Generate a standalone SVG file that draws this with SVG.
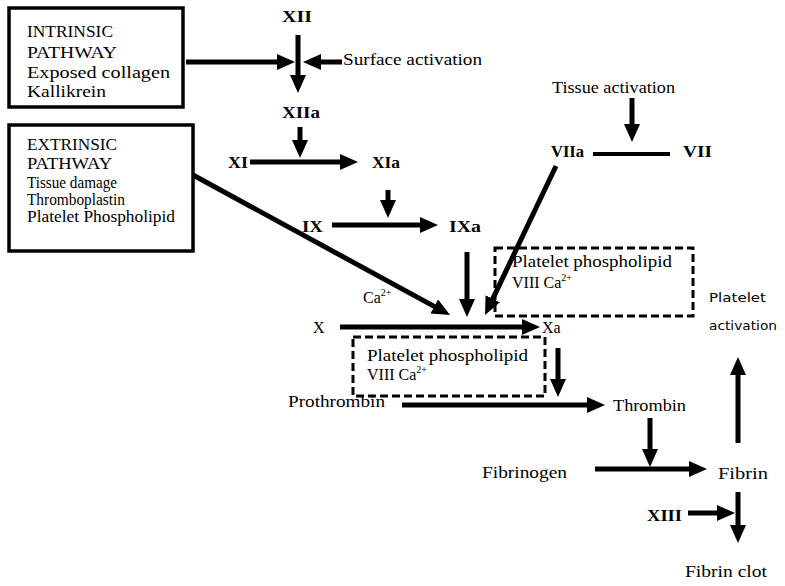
<svg xmlns="http://www.w3.org/2000/svg" width="785" height="586" viewBox="0 0 785 586">
<defs>
<marker id="ah" markerUnits="userSpaceOnUse" markerWidth="18" markerHeight="16" refX="2" refY="8" orient="auto">
<path d="M0,0 L18,8 L0,16 z" fill="#000"/>
</marker>
<style>
text{font-family:"Liberation Serif","Times New Roman",serif;font-size:16px;fill:#000}
.b{font-weight:bold}
.sans{font-family:"DejaVu Sans","Liberation Sans",sans-serif;font-size:13px}
.box{fill:none;stroke:#000;stroke-width:3.5}
.dash{fill:none;stroke:#000;stroke-width:3;stroke-dasharray:8,4}
.arr{stroke:#000;stroke-width:5;fill:none;marker-end:url(#ah)}
.ln{stroke:#000;stroke-width:4;fill:none}
.sup{font-size:10px}
</style>
</defs>
<rect width="785" height="586" fill="#fff"/>

<g id="intrinsic">
<rect class="box" x="9" y="8" width="174" height="99"/>
<text x="27" y="37" textLength="86" lengthAdjust="spacingAndGlyphs">INTRINSIC</text>
<text x="27" y="58" textLength="90" lengthAdjust="spacingAndGlyphs">PATHWAY</text>
<text x="27" y="78" textLength="143" lengthAdjust="spacingAndGlyphs">Exposed collagen</text>
<text x="27" y="97" textLength="79" lengthAdjust="spacingAndGlyphs">Kallikrein</text>
</g>

<g id="extrinsic">
<rect class="box" x="9" y="125" width="184" height="126"/>
<text x="27" y="150" textLength="90" lengthAdjust="spacingAndGlyphs">EXTRINSIC</text>
<text x="27" y="169" textLength="85" lengthAdjust="spacingAndGlyphs">PATHWAY</text>
<text x="27" y="188" textLength="90" lengthAdjust="spacingAndGlyphs">Tissue damage</text>
<text x="27" y="205" textLength="98" lengthAdjust="spacingAndGlyphs">Thromboplastin</text>
<text x="27" y="222" textLength="148" lengthAdjust="spacingAndGlyphs">Platelet Phospholipid</text>
</g>

<g id="XII"><text class="b" x="282" y="22" textLength="30" lengthAdjust="spacingAndGlyphs">XII</text></g>
<g id="surface"><text x="343" y="65" textLength="139" lengthAdjust="spacingAndGlyphs">Surface activation</text></g>
<g id="XIIa"><text class="b" x="282" y="118" textLength="38" lengthAdjust="spacingAndGlyphs">XIIa</text></g>
<g id="XI"><text class="b" x="228" y="168" textLength="20" lengthAdjust="spacingAndGlyphs">XI</text></g>
<g id="XIa"><text class="b" x="372" y="168" textLength="28" lengthAdjust="spacingAndGlyphs">XIa</text></g>
<g id="IX"><text class="b" x="302" y="232" textLength="21" lengthAdjust="spacingAndGlyphs">IX</text></g>
<g id="IXa"><text class="b" x="449" y="232" textLength="32" lengthAdjust="spacingAndGlyphs">IXa</text></g>
<g id="tissue"><text x="552" y="93" textLength="123" lengthAdjust="spacingAndGlyphs">Tissue activation</text></g>
<g id="VIIa"><text class="b" x="551" y="157" textLength="33" lengthAdjust="spacingAndGlyphs">VIIa</text></g>
<g id="VII"><text class="b" x="683" y="157" textLength="29" lengthAdjust="spacingAndGlyphs">VII</text></g>
<g id="Ca"><text x="363" y="303">Ca<tspan class="sup" dy="-7">2+</tspan></text></g>
<g id="X"><text x="313" y="333">X</text></g>
<g id="Xa"><text x="542" y="333">Xa</text></g>

<g id="platelet-upper">
<rect class="dash" x="495" y="248" width="198" height="68"/>
<text x="512" y="267" textLength="160" lengthAdjust="spacingAndGlyphs">Platelet phospholipid</text>
<text x="512" y="288">VIII Ca<tspan class="sup" dy="-7">2+</tspan></text>
</g>

<g id="platelet-lower">
<rect class="dash" x="353" y="337" width="192" height="59"/>
<text x="367" y="361" textLength="161" lengthAdjust="spacingAndGlyphs">Platelet phospholipid</text>
<text x="367" y="380">VIII Ca<tspan class="sup" dy="-7">2+</tspan></text>
</g>

<g id="platelet-activation">
<text class="sans" x="709" y="302" textLength="57" lengthAdjust="spacingAndGlyphs">Platelet</text>
<text class="sans" x="709" y="330" textLength="68" lengthAdjust="spacingAndGlyphs">activation</text>
</g>

<g id="prothrombin"><text x="288" y="407" textLength="97" lengthAdjust="spacingAndGlyphs">Prothrombin</text></g>
<g id="thrombin"><text x="613" y="411" textLength="73" lengthAdjust="spacingAndGlyphs">Thrombin</text></g>
<g id="fibrinogen"><text x="482" y="478" textLength="85" lengthAdjust="spacingAndGlyphs">Fibrinogen</text></g>
<g id="fibrin"><text x="718" y="479" textLength="50" lengthAdjust="spacingAndGlyphs">Fibrin</text></g>
<g id="XIII"><text class="b" x="647" y="521" textLength="35" lengthAdjust="spacingAndGlyphs">XIII</text></g>
<g id="fibrin-clot"><text x="685" y="577" textLength="82" lengthAdjust="spacingAndGlyphs">Fibrin clot</text></g>

<g id="connectors">
<line class="arr" x1="186" y1="62" x2="279" y2="62"/>
<line class="arr" x1="342" y1="62" x2="319" y2="62"/>
<line class="arr" x1="298" y1="35" x2="298" y2="77"/>
<line class="arr" x1="300" y1="127" x2="300" y2="142"/>
<line class="arr" x1="250" y1="162" x2="342" y2="162"/>
<line class="arr" x1="388" y1="190" x2="388" y2="202"/>
<line class="arr" x1="332" y1="225" x2="422" y2="225"/>
<line class="arr" x1="467" y1="252" x2="467" y2="301"/>
<line class="arr" x1="193" y1="175" x2="436" y2="307.4"/>
<line class="arr" x1="556" y1="166" x2="491.9" y2="300.6"/>
<line class="arr" x1="632" y1="98" x2="632" y2="126"/>
<line class="ln" x1="593" y1="154" x2="670" y2="154"/>
<line class="arr" x1="340" y1="327" x2="524" y2="327"/>
<line class="arr" x1="558" y1="348" x2="558" y2="381"/>
<line class="arr" x1="402" y1="405" x2="589" y2="405"/>
<line class="arr" x1="650" y1="418" x2="650" y2="451"/>
<line class="arr" x1="595" y1="469" x2="691" y2="469"/>
<line class="arr" x1="738" y1="443" x2="738" y2="373"/>
<line class="arr" x1="738" y1="492" x2="738" y2="527"/>
<line class="arr" x1="688" y1="513" x2="719" y2="513"/>
</g>
</svg>
